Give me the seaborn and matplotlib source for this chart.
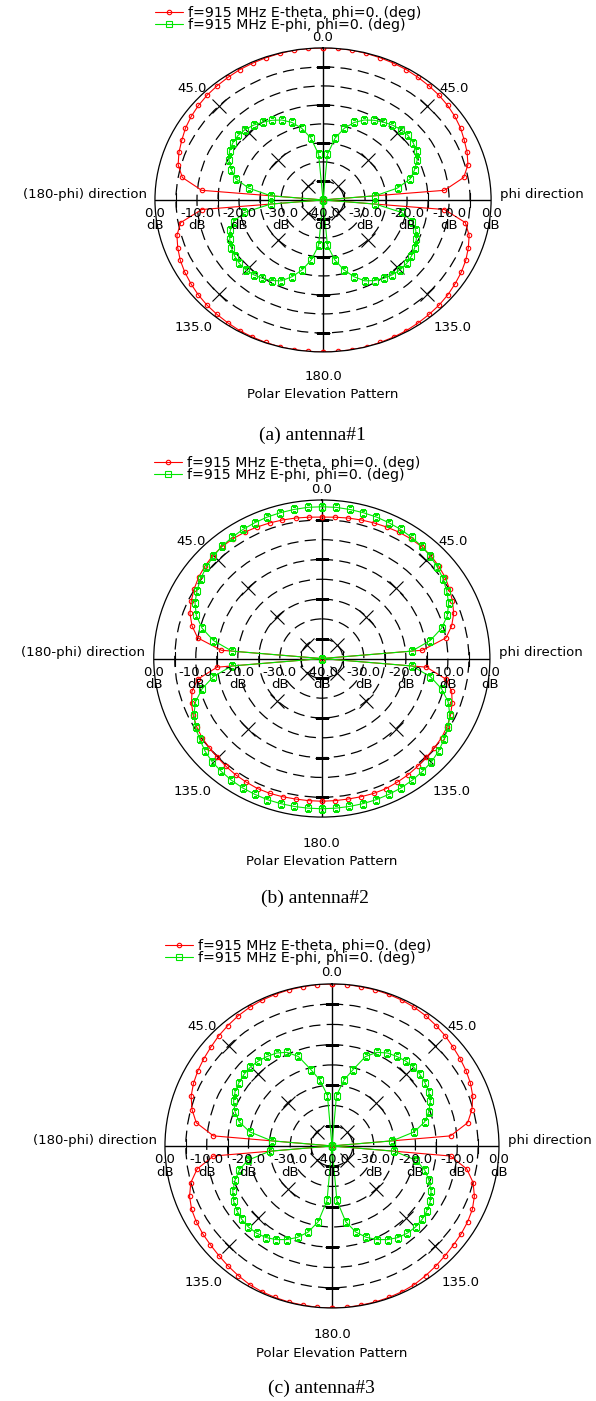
import numpy as np
import matplotlib
matplotlib.use('Agg')
import matplotlib.pyplot as plt
import seaborn as sns

# elevation angle theta (deg), sampled every 5 deg from 0 (top) to 180 (bottom)
theta_deg = np.arange(0, 181, 5)

# (a) antenna#1 -- gain in dB
a_etheta = [0, 0, 0, -0.1, -0.2, -0.3, -0.4, -0.6, -0.8, -1.0, -1.3, -1.7, -2.2,
            -2.9, -3.5, -4.3, -6.0, -11.0, -40, -11.0, -5.6, -4.0, -3.2, -2.5, -2.0,
            -1.6, -1.2, -0.9, -0.7, -0.5, -0.3, -0.2, -0.1, 0, 0, 0, 0]
a_ephi = [-40, -28.0, -23.5, -20.5, -18.3, -16.8, -15.8, -15.0, -14.3, -13.8, -13.6,
          -13.8, -14.3, -15.3, -16.8, -18.5, -22.0, -27.5, -40, -27.5, -21.0, -18.0,
          -16.5, -15.5, -14.8, -14.3, -14.0, -14.0, -14.3, -14.8, -15.5, -16.5, -18.5,
          -21.0, -24.0, -28.0, -40]

# (b) antenna#2
b_etheta = [-4.3, -4.2, -4.0, -3.8, -3.6, -3.4, -3.2, -3.1, -3.1, -3.3, -3.7, -4.2,
            -4.9, -5.7, -6.6, -8.0, -10.0, -16.0, -40, -15.0, -10.0, -8.0, -7.0, -6.2,
            -5.6, -5.2, -5.0, -4.8, -4.5, -4.2, -4.0, -3.8, -3.8, -3.9, -4.0, -4.0, -4.0]
b_ephi = [-1.7, -1.7, -1.8, -1.9, -2.0, -2.2, -2.4, -2.7, -3.0, -3.5, -4.1, -4.8,
          -5.7, -6.7, -8.2, -10.5, -13.8, -18.5, -40, -18.5, -13.8, -10.5, -8.0, -6.4,
          -5.3, -4.5, -3.7, -3.1, -2.8, -2.5, -2.3, -2.2, -2.1, -2.1, -2.1, -2.1, -2.1]

# (c) antenna#3
c_etheta = [0, 0, -0.1, -0.1, -0.2, -0.3, -0.5, -0.8, -1.2, -1.6, -2.1, -2.5, -2.9,
            -3.4, -4.1, -5.3, -7.0, -11.5, -40, -11.5, -7.2, -5.0, -3.7, -2.9, -2.5,
            -2.2, -2.0, -1.7, -1.3, -0.9, -0.5, -0.3, -0.2, -0.1, -0.1, 0, 0]
c_ephi = [-40, -27.5, -23.5, -20.5, -16.5, -14.5, -13.5, -13.0, -12.6, -12.4, -12.5,
          -12.8, -13.2, -14.0, -15.3, -17.0, -20.0, -25.5, -40, -25.0, -19.5, -17.0,
          -15.3, -13.8, -12.8, -12.2, -11.8, -11.7, -11.9, -12.4, -13.3, -14.5, -16.0,
          -18.0, -21.0, -26.5, -40]

legend_labels = ['f=915 MHz E-theta, phi=0. (deg)', 'f=915 MHz E-phi, phi=0. (deg)']
captions = ['(a) antenna#1', '(b) antenna#2', '(c) antenna#3']
db_ticks = [0.0, -10.0, -20.0, -30.0, -40.0, -30.0, -20.0, -10.0, 0.0]

RED = '#ff0000'
GREEN = '#00e600'

sns.set_style('white')
plt.rcParams['font.family'] = ['DejaVu Sans']
plt.rcParams['text.color'] = 'black'


def draw_half_curves(ax, values, color, marker, ms, label):
    th = np.deg2rad(theta_deg)
    vals = np.asarray(values, dtype=float)
    style = dict(color=color, lw=0.8, marker=marker, ms=ms, markerfacecolor='none',
                 markeredgecolor=color, markeredgewidth=0.8, sort=False, estimator=None)
    # phi direction (right) and (180-phi) direction (left)
    sns.lineplot(x=th, y=vals, ax=ax, label=label, **style)
    sns.lineplot(x=-th, y=vals, ax=ax, **style)


def setup_polar(ax):
    ax.set_theta_zero_location('N')
    ax.set_theta_direction(-1)
    ax.set_aspect('auto')
    ax.set_ylim(-40, 0)
    ax.set_xticks([])
    ax.set_yticks([-35, -30, -25, -20, -15, -10, -5])
    ax.set_yticklabels([])
    ax.xaxis.grid(False)
    ax.yaxis.grid(True, color='black', linestyle=(0, (9, 5)), linewidth=0.9)
    ax.spines['polar'].set_color('black')
    ax.spines['polar'].set_linewidth(0.9)
    ax.set_xlabel('')
    ax.set_ylabel('')
    for ang in [0, np.pi / 2, np.pi, -np.pi / 2]:
        ax.axvline(ang, color='black', lw=1.0, zorder=1)
    ring = np.array([-35, -25, -15, -5])
    for ang in [0, np.pi]:
        ax.plot(np.full(4, ang), ring, ls='none', marker='_', ms=10, mew=0.8, color='black', zorder=1)
    for ang in [np.pi / 2, -np.pi / 2]:
        ax.plot(np.full(4, ang), ring, ls='none', marker='|', ms=10, mew=0.8, color='black', zorder=1)
    for ang in [np.pi / 4, 3 * np.pi / 4, -np.pi / 4, -3 * np.pi / 4]:
        ax.plot(np.full(4, ang), ring, ls='none', marker='x', ms=10, mew=0.8, color='black', zorder=1)


def annotate(ax):
    kw = dict(transform=ax.transAxes, ha='center', va='center', fontsize=9.5, clip_on=False)
    ax.text(0.5, 1.034, '0.0', **kw)
    ax.text(0.11, 0.868, '45.0', **kw)
    ax.text(0.89, 0.868, '45.0', **kw)
    ax.text(0.115, 0.08, '135.0', **kw)
    ax.text(0.885, 0.08, '135.0', **kw)
    ax.text(0.5, -0.082, '180.0', **kw)
    ax.text(0.5, -0.14, 'Polar Elevation Pattern', **kw)
    ax.text(-0.025, 0.518, '(180-phi) direction', transform=ax.transAxes, ha='right',
            va='center', fontsize=9.5, clip_on=False)
    ax.text(1.027, 0.518, 'phi direction', transform=ax.transAxes, ha='left',
            va='center', fontsize=9.5, clip_on=False)
    n = len(db_ticks)
    for i, v in enumerate(db_ticks):
        ax.text(i / (n - 1), 0.478, f'{v:.1f}\ndB', transform=ax.transAxes, ha='center',
                va='top', fontsize=9.5, linespacing=0.95, clip_on=False)


fig = plt.figure(figsize=(5.96, 14.01), dpi=100)

panels = [
    (a_etheta, a_ephi, [0.260, 0.7488, 0.564, 0.217], 0.6895, 0.524),
    (b_etheta, b_ephi, [0.258, 0.4168, 0.564, 0.2263], 0.359, 0.528),
    (c_etheta, c_ephi, [0.2768, 0.0664, 0.5604, 0.2313], 0.0093, 0.540),
]

for (red_vals, green_vals, rect, cap_y, cap_x), caption in zip(panels, captions):
    ax = fig.add_axes(rect, projection='polar')
    draw_half_curves(ax, red_vals, RED, 'o', 3.2, legend_labels[0])
    draw_half_curves(ax, green_vals, GREEN, 's', 4.0, legend_labels[1])
    setup_polar(ax)
    annotate(ax)
    leg = ax.legend(loc='upper left', bbox_to_anchor=(0.0, 1.138), frameon=False,
                    fontsize=10.2, numpoints=1, handlelength=2.0, handletextpad=0.35,
                    labelspacing=-0.15, borderpad=0, borderaxespad=0)
    fig.text(cap_x, cap_y, caption, ha='center', va='center', fontsize=14,
             family='Liberation Serif')

fig.savefig('out.png', dpi=100, facecolor='white')
